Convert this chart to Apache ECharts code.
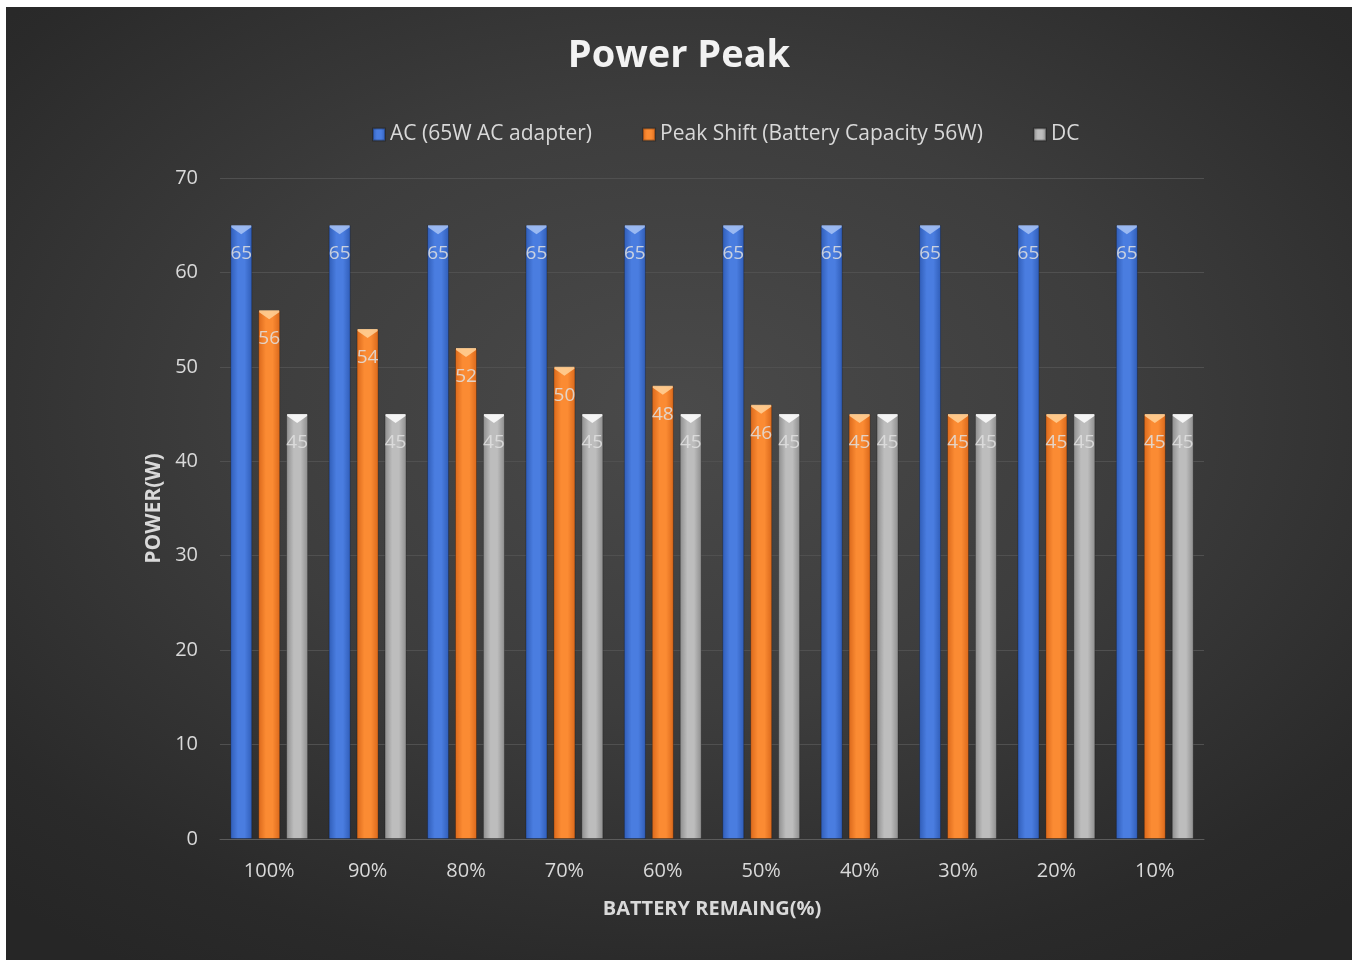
<!DOCTYPE html>
<html>
<head>
<meta charset="utf-8">
<title>Power Peak</title>
<script src="https://cdn.jsdelivr.net/npm/echarts@6/dist/echarts.min.js"></script>
<style>
  html, body { margin: 0; padding: 0; background: #fff; }
  #wrap {
    position: absolute; left: 6px; top: 7px; width: 1346px; height: 953px;
    background: radial-gradient(ellipse 75% 70% at 50% 42%, #4a4a4a 0%, #3d3d3d 45%, #2a2a2a 85%, #262626 100%);
  }
  #main { width: 1346px; height: 953px; }
</style>
</head>
<body>
<div id="wrap"><div id="main"></div></div>
<script>
var categories = ['100%', '90%', '80%', '70%', '60%', '50%', '40%', '30%', '20%', '10%'];
var seriesNames = ['AC (65W AC adapter)', 'Peak Shift (Battery Capacity 56W)', 'DC'];
var acValues = [65, 65, 65, 65, 65, 65, 65, 65, 65, 65];
var peakValues = [56, 54, 52, 50, 48, 46, 45, 45, 45, 45];
var dcValues = [45, 45, 45, 45, 45, 45, 45, 45, 45, 45];
var yTicks = { min: 0, max: 70, interval: 10 };

var font = '"Open Sans", "Noto Sans", sans-serif';
var txt = '#d9d9d9';

// 柱子：横向渐变 + 顶部三角高光
function barGrad(edge, mid) {
  return new echarts.graphic.LinearGradient(0, 0, 1, 0, [
    { offset: 0, color: edge },
    { offset: 0.35, color: mid },
    { offset: 0.65, color: mid },
    { offset: 1, color: edge }
  ]);
}
var styles = [
  { fill: barGrad('#2f5cb6', '#4a7de0'), cap: '#a8c3f4' },
  { fill: barGrad('#d9671a', '#fb8b33'), cap: '#ffd29a' },
  { fill: barGrad('#8c8c8c', '#bdbdbd'), cap: '#ffffff' }
];
var allValues = [acValues, peakValues, dcValues];

var series = [];
allValues.forEach(function (vals, i) {
  series.push({
    name: seriesNames[i],
    type: 'bar',
    data: vals,
    barWidth: 22,
    barGap: '27%',
    itemStyle: { color: styles[i].fill, borderColor: 'rgba(0,0,0,0.25)', borderWidth: 1 },
    label: {
      show: true,
      position: 'insideTop',
      distance: 19,
      color: 'rgba(225,225,225,0.85)',
      fontFamily: font,
      fontSize: 19
    },
    z: 2
  });
});
allValues.forEach(function (vals, i) {
  series.push({
    name: 'cap' + i,
    type: 'pictorialBar',
    data: vals,
    barWidth: 22,
    barGap: '27%',
    symbol: 'path://M0,0 L22,0 L22,2 L11,9 L0,2 Z',
    symbolSize: [20, 9],
    symbolPosition: 'end',
    itemStyle: { color: styles[i].cap, opacity: 0.85 },
    silent: true,
    z: 3
  });
});

var chart = echarts.init(document.getElementById('main'));
chart.setOption({
  backgroundColor: 'transparent',
  animation: false,
  title: {
    text: 'Power Peak',
    left: 'center',
    top: 25,
    textStyle: { color: '#f2f2f2', fontFamily: font, fontSize: 38, fontWeight: 'bold' }
  },
  legend: {
    data: seriesNames,
    top: 112,
    left: 361,
    itemWidth: 12,
    itemHeight: 12,
    itemGap: 50,
    icon: 'rect',
    textStyle: { color: txt, fontFamily: font, fontSize: 21 }
  },
  grid: { left: 214, right: 148, top: 171, bottom: 121 },
  xAxis: {
    type: 'category',
    data: categories,
    name: 'BATTERY REMAING(%)',
    nameLocation: 'middle',
    nameGap: 60,
    nameTextStyle: { color: txt, fontFamily: font, fontSize: 20, fontWeight: 'bold' },
    axisLine: { lineStyle: { color: '#5c5c5c', width: 1 } },
    axisTick: { show: false },
    axisLabel: { color: txt, fontFamily: font, fontSize: 20, margin: 22 }
  },
  yAxis: {
    type: 'value',
    min: yTicks.min,
    max: yTicks.max,
    interval: yTicks.interval,
    name: 'POWER(W)',
    nameLocation: 'middle',
    nameGap: 54,
    nameTextStyle: { color: txt, fontFamily: font, fontSize: 21, fontWeight: 'bold' },
    axisLine: { show: false },
    axisTick: { show: false },
    axisLabel: { color: txt, fontFamily: font, fontSize: 20, margin: 22 },
    splitLine: { lineStyle: { color: '#505050', width: 1 } }
  },
  series: series
});
</script>
</body>
</html>
